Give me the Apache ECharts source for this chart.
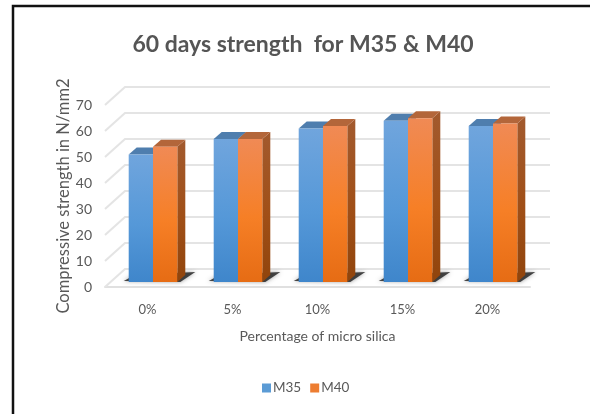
<!DOCTYPE html>
<html>
<head>
<meta charset="utf-8">
<style>
html,body{margin:0;padding:0;background:#fff}
#chart{width:590px;height:414px;filter:blur(0.45px)}
</style>
<script src="https://cdn.jsdelivr.net/npm/echarts@6/dist/echarts.min.js"></script>
</head>
<body>
<div id="chart"></div>
<script>
var categories = ['0%', '5%', '10%', '15%', '20%'];
var m35 = [49, 55, 59, 62, 60];
var m40 = [52, 55, 60, 63, 61];
var yTicks = [0, 10, 20, 30, 40, 50, 60, 70];

var FONT = 'Lato';
var TXT = '#595959';
var WALL = [20, -18];
var DEPTH = [8, -7];
var LIFT = -5;
var BAR_W = 24.3;
var BAR_SHIFT = 5.5;

function grad(stops) {
  return new echarts.graphic.LinearGradient(0, 0, 0, 1, stops.map(function (s) {
    return { offset: s[0], color: s[1] };
  }));
}

function barRenderer(slot, front, side, top) {
  return function (params, api) {
    var p = api.coord([api.value(0), api.value(1)]);
    var b = api.coord([api.value(0), 0]);
    var l = p[0] + BAR_SHIFT + (slot - 1) * BAR_W;
    var r = l + BAR_W;
    var yT = p[1] + LIFT, yB = b[1] + LIFT;
    var dx = DEPTH[0], dy = DEPTH[1];
    return {
      type: 'group',
      children: [
        { type: 'polygon', shape: { points: [[r, yT], [r + dx, yT + dy], [r + dx, yB + dy], [r, yB]] }, style: { fill: grad(side) } },
        { type: 'polygon', shape: { points: [[l, yT], [l + dx, yT + dy], [r + dx, yT + dy], [r, yT]] }, style: { fill: top } },
        { type: 'rect', shape: { x: l, y: yT, width: BAR_W, height: yB - yT }, style: { fill: grad(front) } }
      ]
    };
  };
}

var option = {
  animation: false,
  backgroundColor: '#fff',
  textStyle: { fontFamily: FONT },
  title: {
    text: '60 days strength  for M35 & M40',
    left: 298, top: 28, textAlign: 'center',
    textStyle: { fontFamily: FONT, fontSize: 23, fontWeight: 'bold', color: '#555555' }
  },
  legend: {
    data: ['M35', 'M40'], left: 257, top: 376, itemWidth: 9, itemHeight: 9, itemGap: 9,
    icon: 'rect',
    textStyle: { fontFamily: FONT, fontSize: 13.5, color: TXT, padding: [0, 0, 0, -3] }
  },
  grid: { left: 105, right: 60, top: 105, bottom: 127 },
  xAxis: {
    type: 'category', data: categories,
    name: 'Percentage of micro silica', nameLocation: 'middle', nameGap: 42, nameMoveOverlap: false,
    nameTextStyle: { fontFamily: FONT, fontSize: 14, color: TXT },
    axisTick: { show: false },
    axisLine: { lineStyle: { color: '#e0e0e0', width: 2 } },
    axisLabel: { fontFamily: FONT, fontSize: 13, color: TXT, margin: 16 }
  },
  yAxis: {
    type: 'value', min: 0, max: 70, interval: 10,
    name: 'Compressive strength in N/mm2', nameLocation: 'middle', nameGap: 33, nameMoveOverlap: false,
    nameTextStyle: { fontFamily: FONT, fontSize: 16.5, color: TXT },
    axisLine: { show: false }, axisTick: { show: false }, splitLine: { show: false },
    axisLabel: { fontFamily: FONT, fontSize: 14, color: TXT, margin: 13 }
  },
  graphic: [
    { type: 'polyline', silent: true, shape: { points: [[13, 414], [13, 6], [590, 6]] }, style: { stroke: '#111', lineWidth: 2.5, fill: null } }
  ],
  series: [
    {
      name: 'wall', type: 'custom', silent: true, clip: false, z: 1,
      data: yTicks.map(function (v) { return [0, v]; }),
      renderItem: function (params, api) {
        var y = api.coord([0, api.value(1)])[1];
        var x0 = params.coordSys.x, x1 = x0 + params.coordSys.width;
        return {
          type: 'polyline',
          shape: { points: [[x0, y], [x0 + WALL[0], y + WALL[1]], [x1 + WALL[0], y + WALL[1]]] },
          style: { stroke: '#e4e4e4', lineWidth: 2, fill: null }
        };
      }
    },
    {
      name: 'shadow', type: 'custom', silent: true, clip: false, z: 2,
      data: categories.map(function (c, i) { return [i, 0]; }),
      renderItem: function (params, api) {
        var b = api.coord([api.value(0), 0]);
        var l = b[0] + BAR_SHIFT - BAR_W, r = b[0] + BAR_SHIFT + BAR_W, y = b[1] + LIFT;
        return {
          type: 'polygon',
          shape: { points: [[l - 5, y - 1], [l + 6, y - 7], [r + 18, y - 10], [r + 3, y]] },
          style: { fill: 'rgba(40,40,40,0.85)', shadowBlur: 4, shadowColor: 'rgba(60,60,60,0.6)' }
        };
      }
    },
    {
      name: 'M35', type: 'custom', clip: false, z: 3,
      itemStyle: { color: '#5b9bd5' },
      data: m35.map(function (v, i) { return [i, v]; }),
      renderItem: barRenderer(0, [[0, '#70a5dd'], [0.55, '#5598d8'], [1, '#3f86cb']], [[0, '#4a78a8'], [1, '#2c5f92']], '#4f7eae')
    },
    {
      name: 'M40', type: 'custom', clip: false, z: 4,
      itemStyle: { color: '#ed7d31' },
      data: m40.map(function (v, i) { return [i, v]; }),
      renderItem: barRenderer(1, [[0, '#f08a55'], [0.55, '#f67f26'], [1, '#e66c14']], [[0, '#a25a2e'], [0.55, '#a04f17'], [1, '#90440c']], '#b3663a')
    }
  ]
};
var chart = echarts.init(document.getElementById('chart'));
chart.setOption(option);
</script>
</body>
</html>
